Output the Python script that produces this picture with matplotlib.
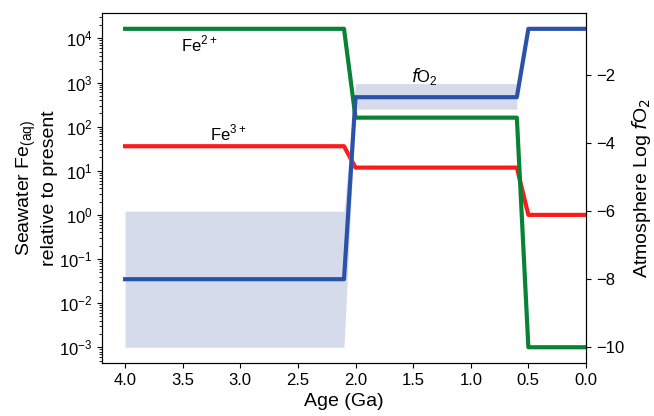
import matplotlib
matplotlib.use("Agg")
import matplotlib.pyplot as plt

plt.rcParams['font.family'] = ['Liberation Sans', 'DejaVu Sans']
plt.rcParams['font.size'] = 12
plt.rcParams['mathtext.fontset'] = 'dejavusans'

# ages (Ga) of the step changes
age = [4.0, 2.1, 2.0, 0.6, 0.5, 0.0]
fe2 = [1.65e4, 1.65e4, 1.6e2, 1.6e2, 1e-3, 1e-3]
fe3 = [36, 36, 11.8, 11.8, 1.0, 1.0]
fo2 = [-8.0, -8.0, -2.65, -2.65, -0.64, -0.64]

# fO2 uncertainty band
band_age = [4.0, 2.1, 2.0, 0.6]
band_lo = [-10.0, -10.0, -3.0, -3.0]
band_hi = [-6.0, -6.0, -2.25, -2.25]

fig = plt.figure(figsize=(6.54, 4.16), dpi=100)
ax = fig.add_axes([0.156, 0.127, 0.74, 0.842])
ax2 = ax.twinx()

ax.set_yscale('log')
ax.plot(age, fe3, color='#ff1a1a', lw=3)
ax.plot(age, fe2, color='#0a8236', lw=3)

ax2.fill_between(band_age, band_lo, band_hi, color='#c5cde3', alpha=0.7, lw=0)
ax2.plot(age, fo2, color='#2a52a8', lw=3)

ax.set_xlim(4.2, 0)
ax.set_xticks([4.0, 3.5, 3.0, 2.5, 2.0, 1.5, 1.0, 0.5, 0.0])
ax.set_xlabel('Age (Ga)', fontsize=14, labelpad=4)
ax.set_ylabel('Seawater Fe$_{\\mathregular{(aq)}}$\nrelative to present', fontsize=14, labelpad=1)
ax2.set_ylabel('Atmosphere Log $f$O$_2$', fontsize=14)
ax2.set_yticks([-10, -8, -6, -4, -2])

ax.text(3.36, 7.3e3, 'Fe$^{\\mathregular{2+}}$', ha='center', va='center')
ax.text(3.10, 72, 'Fe$^{\\mathregular{3+}}$', ha='center', va='center')
ax2.text(1.40, -2.03, '$f$O$_\\mathregular{2}$', ha='center', va='center')

fig.savefig('out.png', dpi=100)
